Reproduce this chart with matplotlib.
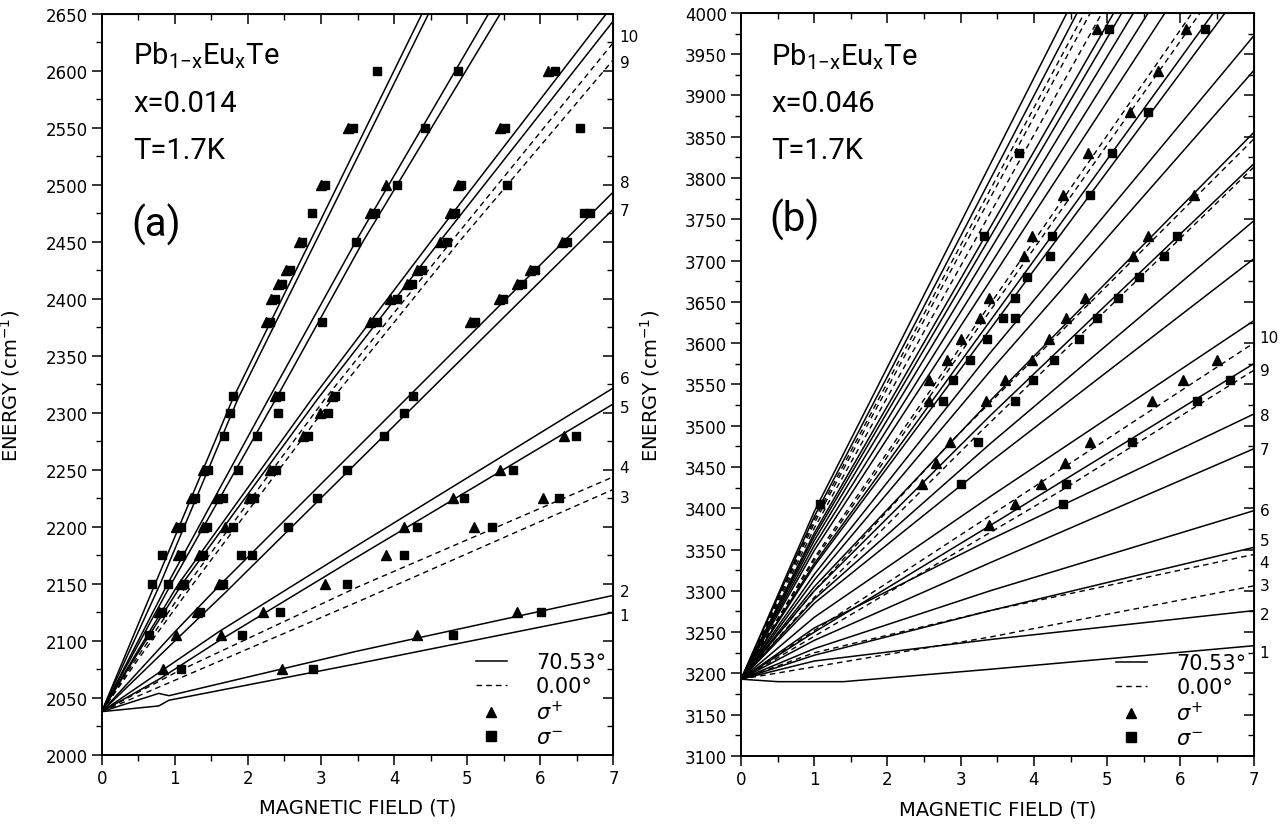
import matplotlib.pyplot as plt
from matplotlib.ticker import MultipleLocator
from matplotlib.lines import Line2D

# ---------------- panel (a): x=0.014 ----------------
# each line: (B values, E values)
a_solid = [
    ([0, 0.78, 0.92, 3.49, 7], [2038, 2043, 2048, 2080, 2125]),          # 1
    ([0, 0.78, 0.92, 3.49, 7], [2038, 2054, 2052, 2091, 2140]),          # 2
    ([0, 0.8, 1.6, 3.4, 7], [2038, 2067, 2100, 2170, 2308]),             # 5
    ([0, 1.6, 3.4, 7], [2038, 2108, 2180, 2322]),                        # 6
    ([0, 1.0, 1.7, 7], [2038, 2100, 2143, 2479]),                        # 7
    ([0, 1.0, 1.6, 7], [2038, 2108, 2148, 2494]),                        # 8
    ([0, 0.5, 1.05, 2.87, 4.51, 6.9], [2038, 2092, 2150, 2312, 2451, 2650]),
    ([0, 0.5, 1.1, 2.95, 4.63, 7], [2038, 2090, 2150, 2312, 2451, 2644]),
    ([0, 0.9, 2.28, 3.48, 5.29], [2038, 2150, 2312, 2451, 2650]),
    ([0, 0.95, 2.38, 3.58, 5.45], [2038, 2150, 2312, 2451, 2650]),
    ([0, 0.73, 1.79, 4.38], [2038, 2150, 2312, 2650]),
    ([0, 0.8, 1.86, 4.47], [2038, 2150, 2312, 2650]),
]
a_dashed = [
    ([0, 3.49, 7], [2038, 2134, 2233]),                                  # 3
    ([0, 1.0, 3.49, 7], [2038, 2072, 2147, 2244]),                       # 4
    ([0, 0.5, 1.25, 3.15, 4.90, 7], [2038, 2084, 2150, 2312, 2451, 2610]),  # 9
    ([0, 0.5, 1.18, 3.05, 4.79, 7], [2038, 2087, 2150, 2312, 2451, 2625]),  # 10
]
a_sigma_plus = {
    2075: [0.84, 2.46], 2105: [1.02, 1.63, 4.31], 2125: [0.78, 1.30, 2.21, 5.68],
    2150: [1.08, 1.60, 3.06], 2175: [1.05, 1.33, 3.89],
    2200: [1.02, 1.38, 1.68, 4.14, 5.09], 2225: [1.22, 1.58, 2.02, 4.81, 6.03],
    2250: [1.38, 2.30, 5.45], 2280: [2.75, 6.32], 2300: [2.99], 2315: [2.37, 3.15],
    2380: [2.25, 3.67, 5.04], 2400: [2.32, 3.94, 5.43], 2413: [2.41, 4.17, 5.68],
    2425: [2.52, 4.31, 5.86], 2450: [2.70, 4.63, 6.29], 2475: [3.67, 4.76],
    2500: [3.00, 3.89, 4.88], 2550: [3.37, 5.45], 2600: [6.11],
}
a_sigma_minus = {
    2075: [1.08, 2.89], 2105: [0.65, 1.92, 4.81], 2125: [0.83, 1.35, 2.44, 6.01],
    2150: [0.69, 0.91, 1.13, 1.66, 3.35], 2175: [0.83, 1.08, 1.38, 1.90, 2.05, 4.14],
    2200: [1.08, 1.44, 1.80, 2.55, 4.31, 5.34], 2225: [1.28, 1.66, 2.08, 2.94, 4.95, 6.25],
    2250: [1.45, 1.86, 2.38, 3.36, 5.62], 2280: [1.67, 2.13, 2.82, 3.86, 6.49],
    2300: [1.76, 2.41, 3.10, 4.13], 2315: [1.80, 2.44, 3.19, 4.26],
    2380: [2.30, 3.01, 3.76, 5.11], 2400: [2.37, 4.04, 5.49], 2413: [2.47, 4.24, 5.75],
    2425: [2.57, 4.38, 5.93], 2450: [2.74, 3.48, 4.72, 6.36],
    2475: [2.87, 3.74, 4.83, 6.60, 6.68], 2500: [3.05, 4.04, 4.92, 5.55],
    2550: [3.44, 4.42, 5.52, 6.54], 2600: [3.77, 4.88, 6.20],
}
a_end_labels = ['1', '2', '3', '4', '5', '6', '7', '8', '9', '10']
a_end_E = [2122, 2143, 2226, 2252, 2305, 2330, 2478, 2502, 2607, 2630]

# ---------------- panel (b): x=0.046 ----------------
b_solid = [
    ([0, 0.5, 1.4, 3.4, 7], [3193, 3190, 3190, 3205, 3233.5]),   # 1
    ([0, 1, 3.4, 7], [3193, 3215, 3241, 3276]),                  # 2
    ([0, 1, 3.4, 7], [3193, 3222, 3276, 3352.6]),                # 5
    ([0, 1, 3.4, 7], [3193, 3230, 3300, 3397]),                  # 6
    ([0, 1, 3.4, 7], [3193, 3240, 3334, 3472]),                  # 7
    ([0, 1, 3.4, 7], [3193, 3255, 3362, 3514]),                  # 8
    ([0, 1, 3.4, 7], [3193, 3250, 3379, 3575]),
    ([0, 1, 3.4, 7], [3193, 3268, 3414, 3627]),
    ([0, 1, 3.4, 7], [3193, 3285, 3456, 3702]),
    ([0, 1, 3.4, 7], [3193, 3290, 3478, 3748]),
    ([0, 1, 3.4, 7], [3193, 3300, 3512, 3817]),
    ([0, 1, 3.4, 7], [3193, 3305, 3530, 3855]),
    ([0, 1, 3.4, 7], [3193, 3313, 3566, 3930]),
    ([0, 1, 3.4, 7], [3193, 3320, 3588, 3972]),
    ([0, 1, 4.45], [3193, 3396, 4000]),
    ([0, 1, 4.59], [3193, 3390, 4000]),
    ([0, 1, 5.09], [3193, 3370, 4000]),
    ([0, 1, 5.20], [3193, 3366, 4000]),
    ([0, 1, 5.36], [3193, 3361, 4000]),
    ([0, 1, 5.56], [3193, 3355, 4000]),
    ([0, 1, 5.79], [3193, 3349, 4000]),
    ([0, 1, 6.45], [3193, 3333, 4000]),
    ([0, 1, 6.61], [3193, 3330, 4000]),
]
b_dashed = [
    ([0, 1, 3.4, 7], [3193, 3208, 3244, 3306]),                  # 3
    ([0, 1, 3.4, 7], [3193, 3225, 3276, 3344]),                  # 4
    ([0, 1, 4.44, 7], [3193, 3245, 3425, 3567]),                 # 9
    ([0, 1, 3.4, 7], [3193, 3252, 3391, 3600]),                  # 10
    ([0, 1, 3.24, 7], [3193, 3292, 3490, 3813]),
    ([0, 1, 2.86, 7], [3193, 3300, 3480, 3847]),
    ([0, 1, 4.69], [3193, 3386, 4000]),
    ([0, 1, 4.77], [3193, 3382, 4000]),
    ([0, 1, 4.93], [3193, 3376, 4000]),
    ([0, 1, 6.16], [3193, 3340, 4000]),
    ([0, 1, 6.27], [3193, 3337, 4000]),
]
b_sigma_plus = {
    3980: [4.86, 6.08], 3930: [5.70], 3880: [5.31], 3830: [4.74], 3780: [4.40, 6.19],
    3730: [3.98, 5.56], 3705: [3.87, 5.35], 3655: [3.39, 4.70], 3630: [3.27, 4.44],
    3605: [3.00, 4.20], 3580: [2.81, 3.98, 6.50], 3555: [2.57, 3.61, 6.03],
    3530: [2.57, 3.35, 5.61], 3480: [2.86, 4.76], 3455: [2.66, 4.42],
    3430: [2.47, 4.09], 3405: [3.74], 3380: [3.39],
}
b_sigma_minus = {
    3980: [5.02, 6.34], 3880: [5.56], 3830: [3.79, 5.06], 3780: [4.77],
    3730: [3.32, 4.24, 5.96], 3705: [4.22, 5.77], 3680: [3.91, 5.44],
    3655: [3.74, 5.15], 3630: [3.58, 3.74, 4.86], 3605: [3.36, 4.61],
    3580: [3.13, 4.28], 3555: [2.90, 3.99, 6.68], 3530: [2.76, 3.74, 6.23],
    3480: [3.24, 5.34], 3430: [3.00, 4.44], 3405: [1.08, 4.40],
}
b_end_labels = ['1', '2', '3', '4', '5', '6', '7', '8', '9', '10']
b_end_E = [3225, 3271, 3306, 3334, 3361, 3397, 3471, 3512, 3567, 3607]

fig = plt.figure(figsize=(12.81, 8.29), dpi=100)
ax_a = fig.add_axes([0.0794, 0.0881, 0.3995, 0.8939])
ax_b = fig.add_axes([0.5785, 0.0869, 0.4001, 0.8963])

big_font = dict(family=['Roboto', 'DejaVu Sans'], weight='normal', color='k')


def setup(ax, ymin, ymax):
    ax.set_xlim(0, 7)
    ax.set_ylim(ymin, ymax)
    ax.xaxis.set_major_locator(MultipleLocator(1))
    ax.xaxis.set_minor_locator(MultipleLocator(0.5))
    ax.yaxis.set_major_locator(MultipleLocator(50))
    ax.yaxis.set_minor_locator(MultipleLocator(25))
    ax.tick_params(which='major', direction='out', length=7, width=1.1,
                   labelsize=12, pad=3)
    ax.tick_params(which='minor', direction='out', length=4, width=1.0)
    for s in ax.spines.values():
        s.set_linewidth(1.4)
    top = ax.secondary_xaxis('top')
    top.xaxis.set_major_locator(MultipleLocator(1))
    top.xaxis.set_minor_locator(MultipleLocator(0.5))
    top.tick_params(which='major', direction='in', length=7, width=1.1, labeltop=False)
    top.tick_params(which='minor', direction='in', length=4, width=1.0)
    right = ax.secondary_yaxis('right')
    right.yaxis.set_major_locator(MultipleLocator(50))
    right.yaxis.set_minor_locator(MultipleLocator(25))
    right.tick_params(which='major', direction='in', length=7, width=1.1, labelright=False)
    right.tick_params(which='minor', direction='in', length=4, width=1.0)
    ax.set_xlabel('MAGNETIC FIELD (T)', fontsize=14)
    ax.set_ylabel('ENERGY (cm$^{-1}$)', fontsize=14)
    ax.xaxis.set_label_coords(0.5, -0.058)
    ax.yaxis.set_label_coords(-0.155, 0.5)


def draw(ax, solid, dashed, sp, sm, end_E, end_labels):
    for B, E in solid:
        ax.plot(B, E, color='k', lw=1.1)
    for B, E in dashed:
        ax.plot(B, E, color='k', lw=1.0, dashes=(4, 3))
    for E, Bs in sp.items():
        ax.plot(Bs, [E] * len(Bs), ls='none', marker='^', ms=6.5, color='k')
    for E, Bs in sm.items():
        ax.plot(Bs, [E] * len(Bs), ls='none', marker='s', ms=6, color='k')
    for E, lab in zip(end_E, end_labels):
        ax.text(1.012, E, lab, transform=ax.get_yaxis_transform(),
                ha='left', va='center', fontsize=11)
    handles = [Line2D([], [], color='k', lw=1.1),
               Line2D([], [], color='k', lw=1.0, dashes=(4, 3)),
               Line2D([], [], ls='none', marker='^', ms=7, color='k'),
               Line2D([], [], ls='none', marker='s', ms=6.5, color='k')]
    labels = ['70.53°', '0.00°', r'$\sigma^{+}$', r'$\sigma^{-}$']
    ax.legend(handles, labels, loc='lower right', frameon=False, fontsize=15,
              handlelength=1.5, handletextpad=1.4, labelspacing=0.2,
              borderaxespad=0.15, borderpad=0.2)


formula = r'Pb$_{\mathregular{1{-}x}}$Eu$_{\mathregular{x}}$Te'

setup(ax_a, 2000, 2650)
draw(ax_a, a_solid, a_dashed, a_sigma_plus, a_sigma_minus, a_end_E, a_end_labels)
ax_a.text(0.062, 0.934, formula, transform=ax_a.transAxes, fontsize=21, **big_font)
ax_a.text(0.062, 0.869, 'x=0.014', transform=ax_a.transAxes, fontsize=21, **big_font)
ax_a.text(0.062, 0.806, 'T=1.7K', transform=ax_a.transAxes, fontsize=21, **big_font)
ax_a.text(0.058, 0.716, '(a)', transform=ax_a.transAxes, fontsize=29, va='center', **big_font)

setup(ax_b, 3100, 4000)
draw(ax_b, b_solid, b_dashed, b_sigma_plus, b_sigma_minus, b_end_E, b_end_labels)
ax_b.text(0.059, 0.931, formula, transform=ax_b.transAxes, fontsize=21, **big_font)
ax_b.text(0.059, 0.868, 'x=0.046', transform=ax_b.transAxes, fontsize=21, **big_font)
ax_b.text(0.059, 0.805, 'T=1.7K', transform=ax_b.transAxes, fontsize=21, **big_font)
ax_b.text(0.055, 0.723, '(b)', transform=ax_b.transAxes, fontsize=29, va='center', **big_font)

fig.savefig('out.png', dpi=100)
